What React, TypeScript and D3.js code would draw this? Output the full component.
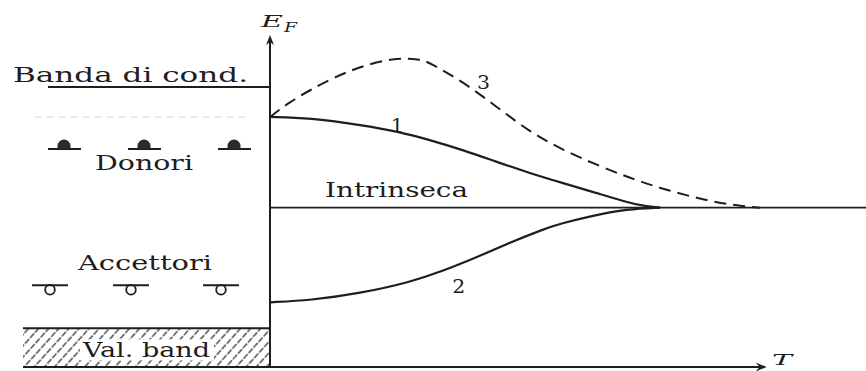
import React from "react";
import * as d3 from "d3";

// Fermi level vs temperature for doped semiconductors (energies relative to the intrinsic level)
const curve1T = [0, 0.81, 1.81, 2.62, 3.22, 3.89, 4.57, 5.23, 5.9, 6.58, 7.25, 7.55, 7.85];
const curve1E = [0.751, 0.743, 0.685, 0.627, 0.56, 0.477, 0.378, 0.286, 0.203, 0.12, 0.037, 0.012, 0];

const curve2T = [0, 0.81, 1.81, 2.82, 3.48, 4.17, 4.83, 5.5, 5.84, 6.5, 7.19, 7.85];
const curve2E = [-0.784, -0.768, -0.71, -0.618, -0.525, -0.41, -0.29, -0.18, -0.133, -0.066, -0.012, 0];

const curve3T = [0, 0.4, 0.81, 1.31, 1.81, 2.48, 3.02, 3.22, 3.89, 4.57, 5.23, 5.9, 6.58, 7.25, 7.85, 8.52, 9.06, 9.52, 9.87];
const curve3E = [0.751, 0.876, 0.975, 1.083, 1.166, 1.241, 1.232, 1.199, 1.041, 0.834, 0.627, 0.477, 0.353, 0.245, 0.162, 0.087, 0.037, 0.012, 0];

const curveLabels = ["1", "2", "3"];
const curveLabelT = [2.56, 3.8, 4.3];
const curveLabelE = [0.68, -0.66, 1.03];

// Energy levels (units of half the gap)
const levelConduction = 1;
const levelIntrinsic = 0;
const levelDonor = 0.485;
const levelAcceptor = -0.643;
const levelValence = -1;
const energyDomain = [-1.32, 1.43];
const tempDomain = [0, 12];
const tempAxisEnd = 10;

const W = 866;
const H = 371;
const FONT = "'DejaVu Serif', 'Liberation Serif', serif";
const INK = "#1e1e1e";

const x = d3.scaleLinear().domain(tempDomain).range([270, 866]);
const y = d3.scaleLinear().domain(energyDomain).range([367, 35]);

const line = d3
  .line<[number, number]>()
  .x((d) => x(d[0]))
  .y((d) => y(d[1]))
  .curve(d3.curveBasis);

const zip = (t: number[], e: number[]) => t.map((v, i) => [v, e[i]] as [number, number]);

const donorX = [64, 144, 234];
const acceptorX = [50, 131, 221];

export default function App() {
  const x0 = x(0);
  const yBottom = y(energyDomain[0]);
  const yTop = y(energyDomain[1]);
  const xEnd = x(tempAxisEnd);
  return (
    <svg
      width={W}
      height={H}
      style={{ position: "absolute", left: 0, top: 0, background: "#fff" }}
    >
      <defs>
        <pattern
          id="hatch"
          patternUnits="userSpaceOnUse"
          width={7.5}
          height={7.5}
          patternTransform="rotate(42)"
        >
          <line x1={1} y1={0} x2={1} y2={7.5} stroke="#222" strokeWidth={1.2} strokeDasharray="6 1.5" />
        </pattern>
      </defs>
      <rect width={W} height={H} fill="#fff" />

      {/* valence band */}
      <rect x={23} y={y(levelValence)} width={x0 - 23} height={yBottom - y(levelValence)} fill="url(#hatch)" />
      <rect x={80} y={y(levelValence) + 11} width={134} height={21} fill="#fff" />
      <line x1={23} x2={x0} y1={y(levelValence)} y2={y(levelValence)} stroke={INK} strokeWidth={2} />

      {/* conduction band edge */}
      <line x1={48} x2={x0} y1={y(levelConduction)} y2={y(levelConduction)} stroke={INK} strokeWidth={2} />
      <line x1={35} x2={245} y1={y(0.75)} y2={y(0.75)} stroke="#d4d4d4" strokeWidth={1} strokeDasharray="7 5" />

      {/* donor levels */}
      {donorX.map((cx, i) => (
        <g key={"d" + i}>
          <line x1={cx - 16} x2={cx + 17} y1={y(levelDonor)} y2={y(levelDonor)} stroke={INK} strokeWidth={2} />
          <path
            d={`M${cx - 6.5},${y(levelDonor)} L${cx - 6.5},${y(levelDonor) - 3} A6.5,6.5 0 0 1 ${cx + 6.5},${y(levelDonor) - 3} L${cx + 6.5},${y(levelDonor)} Z`}
            fill="#2a2a2a"
          />
        </g>
      ))}

      {/* acceptor levels */}
      {acceptorX.map((cx, i) => (
        <g key={"a" + i}>
          <line x1={cx - 18} x2={cx + 18} y1={y(levelAcceptor)} y2={y(levelAcceptor)} stroke={INK} strokeWidth={2} />
          <circle cx={cx} cy={y(levelAcceptor) + 4.5} r={4.8} fill="none" stroke={INK} strokeWidth={1.8} />
        </g>
      ))}

      {/* intrinsic level */}
      <line x1={x0} x2={W} y1={y(levelIntrinsic)} y2={y(levelIntrinsic)} stroke={INK} strokeWidth={1.6} />

      {/* Fermi level curves */}
      <path d={line(zip(curve1T, curve1E)) || ""} fill="none" stroke={INK} strokeWidth={2.2} />
      <path d={line(zip(curve2T, curve2E)) || ""} fill="none" stroke={INK} strokeWidth={2.2} />
      <path
        d={line(zip(curve3T, curve3E)) || ""}
        fill="none"
        stroke={INK}
        strokeWidth={2}
        strokeDasharray="12 7"
      />

      {/* axes */}
      <line x1={x0} x2={x0} y1={yBottom} y2={yTop + 4} stroke={INK} strokeWidth={2} />
      <path
        d={`M${x0},${yTop} L${x0 - 4},${yTop + 10} L${x0},${yTop + 7} L${x0 + 4},${yTop + 10} Z`}
        fill={INK}
      />
      <line x1={23} x2={xEnd - 4} y1={yBottom} y2={yBottom} stroke={INK} strokeWidth={2} />
      <path
        d={`M${xEnd},${yBottom} L${xEnd - 11},${yBottom - 4.5} L${xEnd - 7},${yBottom} L${xEnd - 11},${yBottom + 4.5} Z`}
        fill={INK}
      />

      {/* labels */}
      <g fontFamily={FONT} fill={INK} fontSize={21}>
        <text x={13} y={82} textLength={235} lengthAdjust="spacingAndGlyphs">Banda di cond.</text>
        <text x={95} y={170} textLength={98} lengthAdjust="spacingAndGlyphs">Donori</text>
        <text x={325} y={197} textLength={143} lengthAdjust="spacingAndGlyphs">Intrinseca</text>
        <text x={78} y={270} textLength={134} lengthAdjust="spacingAndGlyphs">Accettori</text>
        <text x={83} y={357} textLength={127} lengthAdjust="spacingAndGlyphs">Val. band</text>
      </g>
      <g fontFamily={FONT} fill={INK} fontSize={18} textAnchor="middle">
        {curveLabels.map((s, i) => (
          <text key={s} x={x(curveLabelT[i])} y={y(curveLabelE[i]) + 6} textLength={13} lengthAdjust="spacingAndGlyphs">
            {s}
          </text>
        ))}
      </g>
      <g fontFamily={FONT} fill={INK} fontStyle="italic">
        <text x={261} y={27} fontSize={17} textLength={22} lengthAdjust="spacingAndGlyphs">E</text>
        <text x={284} y={32} fontSize={12} textLength={13} lengthAdjust="spacingAndGlyphs">F</text>
        <text x={772} y={365} fontSize={15} textLength={20} lengthAdjust="spacingAndGlyphs">T</text>
      </g>
    </svg>
  );
}
